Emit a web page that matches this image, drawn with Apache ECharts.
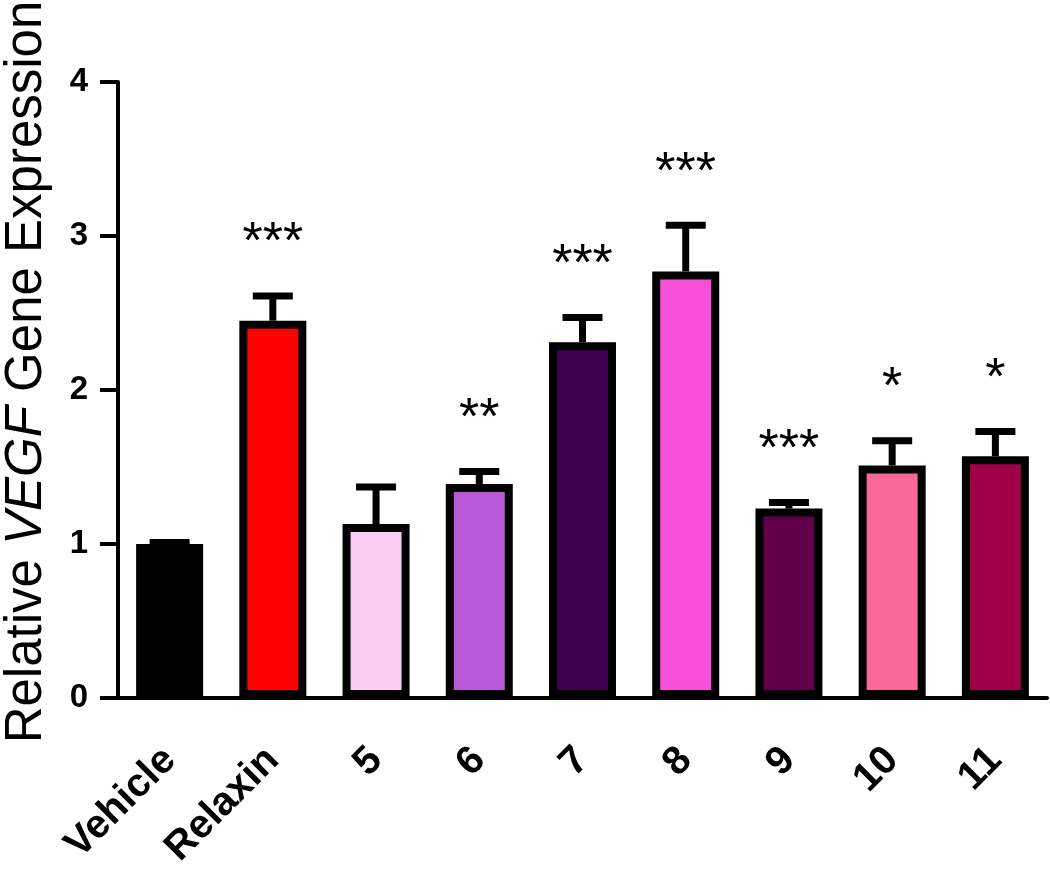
<!DOCTYPE html>
<html>
<head>
<meta charset="utf-8">
<title>VEGF expression</title>
<script src="https://cdn.jsdelivr.net/npm/echarts@6/dist/echarts.min.js"></script>
<style>
	html, body { margin: 0; padding: 0; background: #fff; }
	#chart { width: 1050px; height: 880px; }
</style>
</head>
<body>
<div id="chart"></div>
<script>
// 数据
var categories = ['Vehicle', 'Relaxin', '5', '6', '7', '8', '9', '10', '11'];
var means = [1.0, 2.45, 1.13, 1.39, 2.31, 2.77, 1.23, 1.51, 1.57];
var errUpper = [1.01, 2.61, 1.37, 1.47, 2.47, 3.07, 1.27, 1.67, 1.73];
var stars = ['', '***', '', '**', '***', '***', '***', '*', '*'];
var barColors = ['#000000', '#ff0000', '#f8ccf0', '#b858d8', '#420050', '#f850d8', '#600048', '#f86898', '#a00048'];
var yMin = 0, yMax = 4, yStep = 1;

var font = '"Liberation Sans", Arial, sans-serif';

var chart = echarts.init(document.getElementById('chart'));

var option = {
	animation: false,
	backgroundColor: '#fff',
	grid: {
		left: 118,
		right: 3,
		top: 82,
		bottom: 182,
		outerBoundsMode: 'none'
	},
	xAxis: {
		type: 'category',
		data: categories,
		axisLine: {
			lineStyle: { color: '#000', width: 4 }
		},
		axisTick: {
			alignWithLabel: true,
			length: 22,
			lineStyle: { color: '#000', width: 4 }
		},
		axisLabel: {
			rotate: 45,
			margin: 56,
			color: '#000',
			fontFamily: font,
			fontWeight: 'bold',
			fontSize: 40
		}
	},
	yAxis: {
		type: 'value',
		min: yMin,
		max: yMax,
		interval: yStep,
		name: '{a|Relative }{b|VEGF}{a| Gene Expression}',
		nameLocation: 'middle',
		nameRotate: 90,
		nameGap: 66,
		nameTextStyle: {
			padding: [0, 0, 0, 36],
			rich: {
				a: { fontFamily: font, fontSize: 51, color: '#000' },
				b: { fontFamily: font, fontSize: 51, color: '#000', fontStyle: 'italic' }
			}
		},
		axisLine: {
			show: true,
			lineStyle: { color: '#000', width: 4 }
		},
		axisTick: {
			show: true,
			length: 18,
			lineStyle: { color: '#000', width: 4 }
		},
		axisLabel: {
			margin: 30,
			color: '#000',
			fontFamily: font,
			fontWeight: 'bold',
			fontSize: 33
		},
		splitLine: { show: false }
	},
	series: [
		{
			type: 'bar',
			barWidth: 67,
			data: means.map(function (v, i) {
				return {
					value: v,
					itemStyle: {
						color: barColors[i],
						borderColor: '#000',
						borderWidth: 8
					}
				};
			})
		},
		{
			// 误差线 + 显著性
			type: 'custom',
			z: 5,
			data: means.map(function (v, i) {
				return [i, v, errUpper[i]];
			}),
			renderItem: function (params, api) {
				var base = api.coord([api.value(0), api.value(1)]);
				var top = api.coord([api.value(0), api.value(2)]);
				var s = { stroke: '#000', lineWidth: 7 };
				var idx = params.dataIndex;
				return {
					type: 'group',
					children: [
						{ type: 'line', shape: { x1: top[0], y1: base[1], x2: top[0], y2: top[1] }, style: s },
						{ type: 'line', shape: { x1: top[0] - 20, y1: top[1], x2: top[0] + 20, y2: top[1] }, style: s },
						{
							type: 'text',
							style: {
								x: top[0],
								y: top[1] - 52,
								text: stars[idx],
								fill: '#000',
								font: '52px ' + font,
								textAlign: 'center',
								textVerticalAlign: 'middle'
							}
						}
					]
				};
			}
		}
	]
};

chart.setOption(option);
</script>
</body>
</html>
